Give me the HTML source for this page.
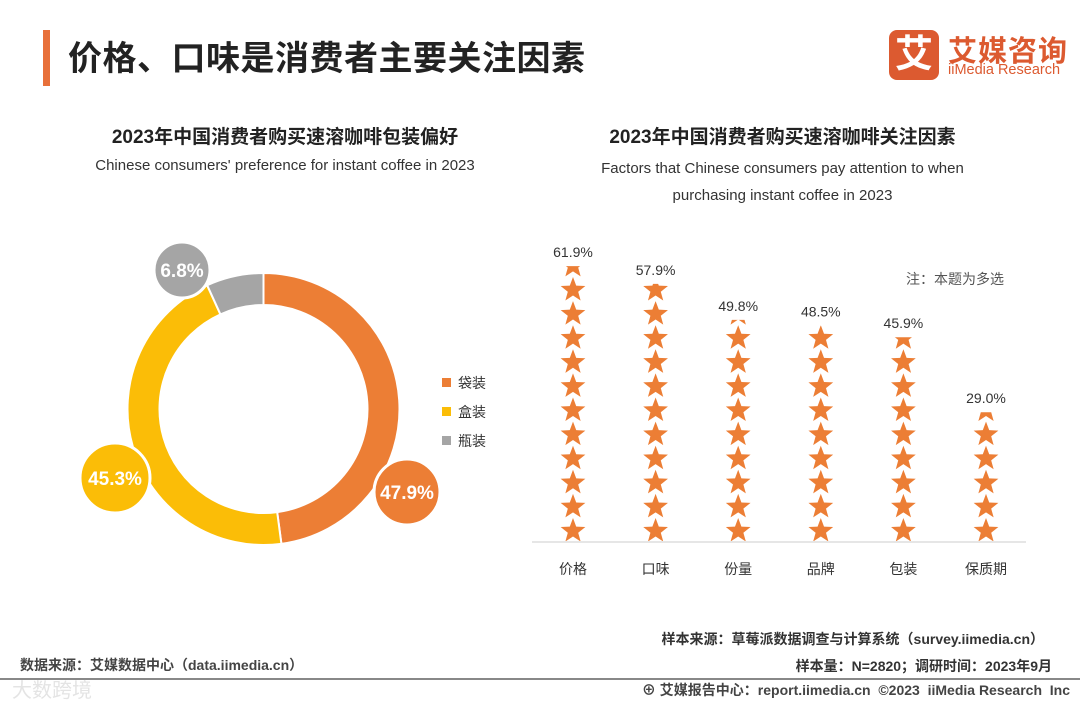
<!DOCTYPE html>
<html><head><meta charset="utf-8">
<style>
body{margin:0;width:1080px;height:702px;background:#fff;overflow:hidden;font-family:"Liberation Sans","Noto Sans CJK SC",sans-serif;position:relative}
.a{position:absolute;white-space:nowrap}
</style></head><body>
<div class="a" style="left:43px;top:30px;width:7px;height:56px;background:#e8703a"></div>
<div class="a" style="left:68px;top:31px;font-size:34px;font-weight:bold;color:#222;letter-spacing:0.5px">价格、口味是消费者主要关注因素</div>
<div class="a" style="left:889px;top:30px;width:50px;height:50px;background:#dc5a30;border-radius:8px;color:#fff;font-size:38px;font-weight:bold;text-align:center;line-height:50px">艾</div>
<div class="a" style="left:948px;top:28px;font-size:29px;font-weight:bold;color:#dc5a30;letter-spacing:1px">艾媒咨询</div>
<div class="a" style="left:948px;top:62px;font-size:14.5px;color:#dc5a30">iiMedia Research</div>

<div class="a" style="left:0;width:570px;text-align:center;top:122px;font-size:19px;font-weight:bold;color:#222">2023年中国消费者购买速溶咖啡包装偏好</div>
<div class="a" style="left:0;width:570px;text-align:center;top:157px;font-size:15px;color:#333">Chinese consumers' preference for instant coffee in 2023</div>
<div class="a" style="left:540px;width:485px;text-align:center;top:122px;font-size:19px;font-weight:bold;color:#222">2023年中国消费者购买速溶咖啡关注因素</div>
<div class="a" style="left:540px;width:485px;text-align:center;top:155px;font-size:15px;color:#333;line-height:27px;white-space:normal">Factors that Chinese consumers pay attention to when<br>purchasing instant coffee in 2023</div>
<div class="a" style="left:906px;top:269px;font-size:14px;color:#555">注：本题为多选</div>

<svg id="svg" class="a" style="left:0;top:0" width="1080" height="702"></svg>

<div class="a" style="right:36px;top:629px;font-size:14px;color:#333;font-weight:bold">样本来源：草莓派数据调查与计算系统（survey.iimedia.cn）</div>
<div class="a" style="right:28px;top:656px;font-size:14px;color:#333;font-weight:bold">样本量：N=2820；调研时间：2023年9月</div>
<div class="a" style="left:20px;top:655px;font-size:14px;color:#444;font-weight:bold">数据来源：艾媒数据中心（data.iimedia.cn）</div>
<div class="a" style="left:0;top:678px;width:1080px;height:2px;background:#888"></div>
<div class="a" style="left:12px;top:674px;font-size:20px;color:#e4e4e4">大数跨境</div>
<div class="a" style="right:10px;top:680px;font-size:14px;color:#444;font-weight:bold">⊕ 艾媒报告中心：report.iimedia.cn &nbsp;©2023 &nbsp;iiMedia Research &nbsp;Inc</div>

<script>
const pieLabels=["袋装","盒装","瓶装"];
const pieValues=[47.9,45.3,6.8];
const pieColors=["#ec7e35","#fbbd07","#a5a5a5"];
const barCats=["价格","口味","份量","品牌","包装","保质期"];
const barValues=[61.9,57.9,49.8,48.5,45.9,29.0];
const NS="http://www.w3.org/2000/svg";
const svg=document.getElementById('svg');
function mk(t,a,p){const e=document.createElementNS(NS,t);for(const k in a)e.setAttribute(k,a[k]);(p||svg).appendChild(e);return e;}
const cx=263.5,cy=409,R=136,r=104;
const tot=pieValues.reduce((s,v)=>s+v,0);
let ang=0;
const pt=(rad,a)=>[cx+rad*Math.sin(a),cy-rad*Math.cos(a)];
const bubblePos=[[407,492,33],[115,478,35],[182,270,28]];
pieValues.forEach((v,i)=>{
 const a0=ang,a1=ang+v/tot*2*Math.PI;ang=a1;
 const L=(a1-a0)>Math.PI?1:0;
 const [x0,y0]=pt(R,a0),[x1,y1]=pt(R,a1),[x2,y2]=pt(r,a1),[x3,y3]=pt(r,a0);
 const p=mk('path',{d:`M${x0},${y0}A${R},${R} 0 ${L} 1 ${x1},${y1}L${x2},${y2}A${r},${r} 0 ${L} 0 ${x3},${y3}Z`,fill:pieColors[i],stroke:'#fff','stroke-width':2});
 
 
});
pieValues.forEach((v,i)=>{
 const [bx,by,br]=bubblePos[i];
 const c=mk('circle',{cx:bx,cy:by,r:br,fill:pieColors[i],stroke:'#fff','stroke-width':3});
 
 
 const t=mk('text',{x:bx,y:by+7,'text-anchor':'middle','font-size':19,'font-weight':'bold',fill:'#fff'});
 t.textContent=v.toFixed(1)+'%';
 
 
});
pieLabels.forEach((l,i)=>{
 const y=383+i*29;
 const s=mk('rect',{x:442,y:y-5,width:9,height:9,fill:pieColors[i]});
 
 
 const t=mk('text',{x:458,y:y+5,'font-size':14,fill:'#333'});
 t.textContent=l;
 
 
});
const base=541,k=4.44,x0=573,dx=82.6,pitch=24.1;
const ax=mk('line',{x1:532,x2:1026,y1:base+1,y2:base+1,stroke:'#ccc','stroke-width':1});


const defs=mk('defs',{});
function starPath(x,y,R1){let d='';for(let i=0;i<10;i++){const rr=i%2?R1*0.42:R1;const a=i*Math.PI/5;d+=(i?'L':'M')+(x+rr*Math.sin(a)).toFixed(2)+','+(y-rr*Math.cos(a)).toFixed(2);}return d+'Z';}
barValues.forEach((v,i)=>{
 const x=x0+i*dx,h=v*k,top=base-h;
 const cp=mk('clipPath',{id:'c'+i},defs);
 mk('rect',{x:x-20,y:top,width:40,height:h},cp);
 const g=mk('g',{'clip-path':`url(#c${i})`});
 
 
 for(let cyS=base-11;cyS>top-pitch;cyS-=pitch){
  mk('path',{d:starPath(x,cyS+1,13),fill:'#ec7e35'},g);
 }
 const t=mk('text',{x:x,y:top-9,'text-anchor':'middle','font-size':14,fill:'#333'});
 t.textContent=v.toFixed(1)+'%';
 
 
 const c=mk('text',{x:x,y:574,'text-anchor':'middle','font-size':14,fill:'#333'});
 c.textContent=barCats[i];
 
 
});
</script>
</body></html>
